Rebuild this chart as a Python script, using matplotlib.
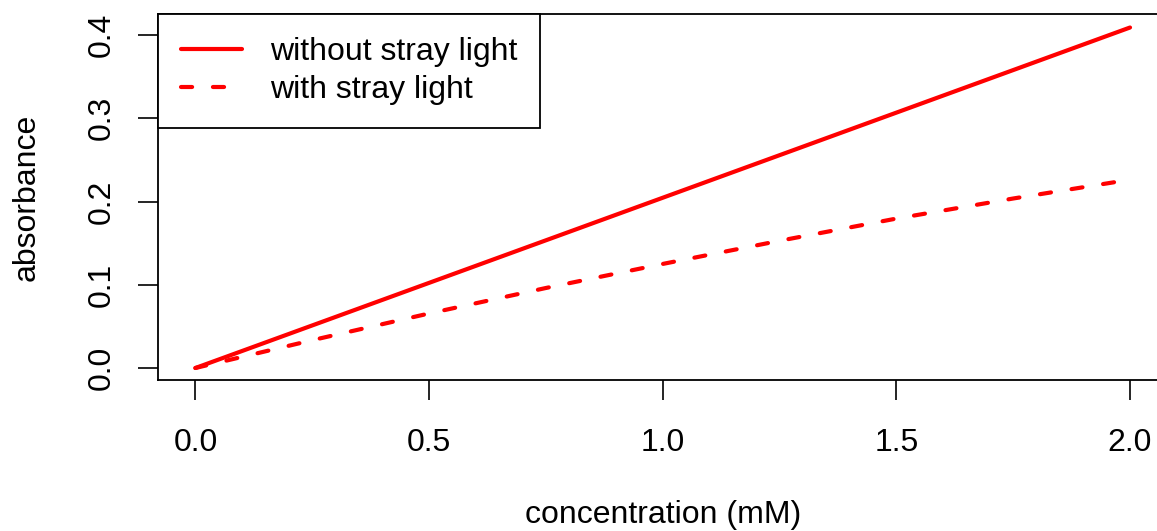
import matplotlib
matplotlib.use('Agg')
import matplotlib.pyplot as plt

plt.rcParams['font.family'] = ['Liberation Sans', 'DejaVu Sans']
plt.rcParams['lines.scale_dashes'] = False

# concentration (mM) and absorbance
conc_ideal = [0.0, 2.0]
abs_ideal = [0.0, 0.409]

conc_stray = [0.0, 0.25, 0.5, 0.75, 1.0, 1.25, 1.5, 1.75, 2.0]
abs_stray = [0.0, 0.0334, 0.0655, 0.0961, 0.125, 0.1528, 0.1795, 0.2036, 0.2262]

xticks = [0.0, 0.5, 1.0, 1.5, 2.0]
yticks = [0.0, 0.1, 0.2, 0.3, 0.4]
series_names = ['without stray light', 'with stray light']

fs = 23
fig = plt.figure(figsize=(11.57, 5.31), dpi=100)
ax = fig.add_axes([158/1157, 1 - 380/531, (1167.4 - 158)/1157, (380 - 14)/531])

ax.plot(conc_ideal, abs_ideal, color='red', lw=3, solid_capstyle='round',
        label=series_names[0])
ax.plot(conc_stray, abs_stray, color='red', lw=3, dash_capstyle='round',
        dashes=(8, 15), label=series_names[1])

ax.set_xlim(-0.08, 2.08)
ax.set_ylim(-0.01441, 0.42523)
ax.set_xticks(xticks)
ax.set_xticklabels([f'{v:.1f}' for v in xticks])
ax.set_yticks(yticks)
ax.set_yticklabels([f'{v:.1f}' for v in yticks], rotation=90, va='center')
ax.tick_params(length=14.5, width=1.2, labelsize=fs)
ax.tick_params(axis='x', pad=20)
ax.tick_params(axis='y', pad=15)
for sp in ax.spines.values():
  sp.set_linewidth(1.3)

ax.set_xlabel('concentration (mM)', fontsize=fs, labelpad=30)
ax.set_ylabel('absorbance', fontsize=fs, labelpad=33)

leg = ax.legend(loc='upper left', borderaxespad=0, fancybox=False,
                edgecolor='black', framealpha=1, fontsize=fs,
                handlelength=1.9, handletextpad=0.88, borderpad=0.72,
                labelspacing=0.25)
leg.get_frame().set_linewidth(1.3)

fig.savefig('out.png', dpi=100)
